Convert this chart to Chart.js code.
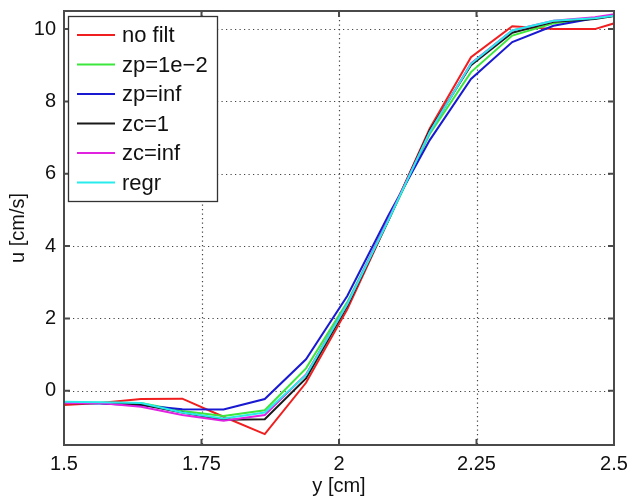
<!DOCTYPE html>
<html>
<head>
<meta charset="utf-8">
<script src="https://cdn.jsdelivr.net/npm/chart.js@4.4.1/dist/chart.umd.min.js"></script>
<style>
  html, body { margin: 0; padding: 0; background: #fff; }
</style>
</head>
<body>
<canvas id="chart" width="628" height="498"></canvas>
<script>
// sample positions along y [cm] (first/last fall just outside the axis range)
const yPos = [1.49, 1.565, 1.64, 1.715, 1.79, 1.865, 1.94, 2.015, 2.09, 2.165, 2.24, 2.315, 2.39, 2.465, 2.54];

// velocity u [cm/s] per method
const noFilt  = [-0.40, -0.34, -0.23, -0.22, -0.72, -1.20, 0.22, 2.25, 4.72, 7.25, 9.22, 10.08, 10.00, 10.00, 10.34];
const zp1e2   = [-0.33, -0.33, -0.34, -0.56, -0.70, -0.54, 0.62, 2.45, 4.72, 7.10, 8.81, 9.82, 10.16, 10.30, 10.45];
const zpInf   = [-0.34, -0.35, -0.40, -0.51, -0.52, -0.23, 0.87, 2.62, 4.85, 6.93, 8.62, 9.64, 10.09, 10.30, 10.45];
const zc1     = [-0.34, -0.34, -0.38, -0.60, -0.80, -0.79, 0.34, 2.35, 4.72, 7.20, 9.00, 9.90, 10.20, 10.28, 10.45];
const zcInf   = [-0.34, -0.34, -0.44, -0.67, -0.83, -0.67, 0.45, 2.40, 4.75, 7.15, 9.05, 9.96, 10.23, 10.33, 10.50];
const regr    = [-0.30, -0.32, -0.34, -0.60, -0.77, -0.60, 0.43, 2.40, 4.72, 7.15, 9.04, 9.96, 10.23, 10.30, 10.45];

const seriesNames = ['no filt', 'zp=1e\u22122', 'zp=inf', 'zc=1', 'zc=inf', 'regr'];
const seriesData = [noFilt, zp1e2, zpInf, zc1, zcInf, regr];
const seriesColors = ['rgb(240,30,30)', 'rgb(60,230,60)', 'rgb(25,25,210)', 'rgb(25,25,25)', 'rgb(225,35,225)', 'rgb(40,235,235)'];

const xTicks = [1.5, 1.75, 2, 2.25, 2.5];
const xTickLabels = ['1.5', '1.75', '2', '2.25', '2.5'];
const yTicks = [0, 2, 4, 6, 8, 10];
const yTickLabels = ['0', '2', '4', '6', '8', '10'];

const FONT = '"Liberation Sans", Arial, Helvetica, sans-serif';

// matlab-ish box: dotted grid, frame, inward ticks and the legend box
const axesBox = {
  id: 'axesBox',
  beforeDatasetsDraw(chart) {
    const { ctx, chartArea: a, scales: { x, y } } = chart;
    ctx.save();
    ctx.strokeStyle = '#444';
    ctx.lineWidth = 1.2;
    ctx.setLineDash([1.2, 3.3]);
    xTicks.forEach(v => {
      const px = Math.round(x.getPixelForValue(v)) + 0.5;
      if (px <= a.left + 1 || px >= a.right - 1) return;
      ctx.beginPath(); ctx.moveTo(px, a.top); ctx.lineTo(px, a.bottom); ctx.stroke();
    });
    yTicks.forEach(v => {
      const py = Math.round(y.getPixelForValue(v)) + 0.5;
      if (py <= a.top + 1 || py >= a.bottom - 1) return;
      ctx.beginPath(); ctx.moveTo(a.left, py); ctx.lineTo(a.right, py); ctx.stroke();
    });
    ctx.restore();
  },
  afterDatasetsDraw(chart) {
    const { ctx, chartArea: a, scales: { x, y } } = chart;
    const tick = 6;
    ctx.save();
    ctx.strokeStyle = '#4a4a4a';
    ctx.lineWidth = 2;
    ctx.strokeRect(a.left, a.top, a.right - a.left, a.bottom - a.top);
    ctx.beginPath();
    xTicks.forEach(v => {
      const px = x.getPixelForValue(v);
      ctx.moveTo(px, a.bottom); ctx.lineTo(px, a.bottom - tick);
      ctx.moveTo(px, a.top); ctx.lineTo(px, a.top + tick);
    });
    yTicks.forEach(v => {
      const py = y.getPixelForValue(v);
      ctx.moveTo(a.left, py); ctx.lineTo(a.left + tick, py);
      ctx.moveTo(a.right, py); ctx.lineTo(a.right - tick, py);
    });
    ctx.stroke();

    // legend
    const lx = a.left + 4, ly = a.top + 5, lw = 149, lh = 185;
    ctx.fillStyle = '#fff';
    ctx.fillRect(lx, ly, lw, lh);
    ctx.strokeStyle = '#333';
    ctx.lineWidth = 1.3;
    ctx.strokeRect(lx + 0.5, ly + 0.5, lw, lh);
    ctx.font = '22px ' + FONT;
    ctx.textBaseline = 'middle';
    ctx.textAlign = 'left';
    seriesNames.forEach((name, i) => {
      const rowY = ly + 19 + i * 29.5;
      ctx.strokeStyle = seriesColors[i];
      ctx.lineWidth = 2;
      ctx.beginPath(); ctx.moveTo(lx + 9, rowY); ctx.lineTo(lx + 47, rowY); ctx.stroke();
      ctx.fillStyle = '#111';
      ctx.fillText(name, lx + 54, rowY + 1);
    });
    ctx.restore();
  }
};

new Chart(document.getElementById('chart'), {
  type: 'line',
  data: {
    datasets: seriesData.map((vals, i) => ({
      label: seriesNames[i],
      data: yPos.map((p, j) => ({ x: p, y: vals[j] })),
      borderColor: seriesColors[i],
      borderWidth: 2,
      pointRadius: 0,
      fill: false,
      tension: 0,
      order: seriesData.length - i
    }))
  },
  options: {
    responsive: false,
    animation: false,
    devicePixelRatio: 1,
    layout: { padding: { top: 11, right: 14, left: 0, bottom: 0 } },
    plugins: { legend: { display: false }, tooltip: { enabled: false } },
    scales: {
      x: {
        type: 'linear',
        min: 1.5,
        max: 2.5,
        grid: { display: false, drawTicks: false },
        border: { display: false },
        afterBuildTicks: s => { s.ticks = xTicks.map(v => ({ value: v })); },
        afterFit: s => { s.height = 53; s.paddingLeft = 0; s.paddingRight = 0; },
        ticks: {
          autoSkip: false, maxRotation: 0, padding: 7, color: '#111',
          font: { family: FONT, size: 20 },
          callback: (v, i) => xTickLabels[i]
        },
        title: { display: true, text: 'y [cm]', color: '#111', padding: 0, font: { family: FONT, size: 20 } }
      },
      y: {
        type: 'linear',
        min: -1.5,
        max: 10.5,
        grid: { display: false, drawTicks: false },
        border: { display: false },
        afterBuildTicks: s => { s.ticks = yTicks.map(v => ({ value: v })); },
        afterFit: s => { s.width = 64; s.paddingTop = 0; s.paddingBottom = 0; },
        ticks: {
          autoSkip: false, padding: 8, color: '#111',
          font: { family: FONT, size: 20 },
          callback: (v, i) => yTickLabels[i]
        },
        title: { display: true, text: 'u [cm/s]', color: '#111', padding: { top: 6, bottom: 0 }, font: { family: FONT, size: 20 } }
      }
    }
  },
  plugins: [axesBox]
});
</script>
</body>
</html>
